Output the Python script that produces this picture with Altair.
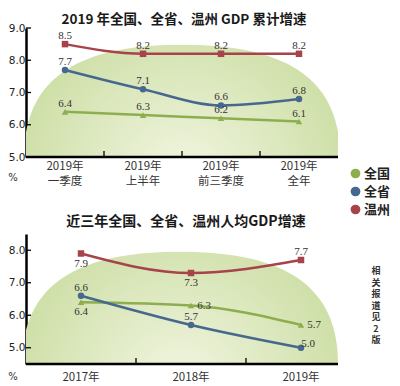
import altair as alt
import pandas as pd

# ---------------- data ----------------
series = ["全国", "全省", "温州"]
series_colors = ["#8dae4f", "#46688e", "#a6434b"]
series_shapes = ["triangle-up", "circle", "square"]

top_title = "2019 年全国、全省、温州 GDP 累计增速"
top_categories = ["2019年 一季度", "2019年 上半年", "2019年 前三季度", "2019年 全年"]
top_national = [6.4, 6.3, 6.2, 6.1]
top_province = [7.7, 7.1, 6.6, 6.8]
top_wenzhou = [8.5, 8.2, 8.2, 8.2]
top_yticks = [5, 6, 7, 8, 9]

bottom_title = "近三年全国、全省、温州人均GDP增速"
bottom_categories = ["2017年", "2018年", "2019年"]
bottom_national = [6.4, 6.3, 5.7]
bottom_province = [6.6, 5.7, 5.0]
bottom_wenzhou = [7.9, 7.3, 7.7]
bottom_yticks = [5, 6, 7, 8]
bottom_label_side = {
    "全国": ["below", "right", "right"],
    "全省": ["above", "above", "upright"],
    "温州": ["below", "below", "above"],
}

unit_text = "%"
side_note = ["相", "关", "报", "道", "见", "2", "版"]


def make_df(cats, values_by_series, sides=None):
    rows = []
    for s, vals in zip(series, values_by_series):
        for i, (c, v) in enumerate(zip(cats, vals)):
            rows.append({"cat": c, "value": v, "series": s,
                         "side": sides[s][i] if sides else "above"})
    return pd.DataFrame(rows)


top_df = make_df(top_categories, [top_national, top_province, top_wenzhou])
bottom_df = make_df(bottom_categories, [bottom_national, bottom_province, bottom_wenzhou],
                    bottom_label_side)

color_scale = alt.Scale(domain=series, range=series_colors)
legend = alt.Legend(orient="none", legendX=323, legendY=139, title=None,
                    symbolType="circle", symbolSize=95, symbolStrokeWidth=0,
                    labelFont="Noto Sans CJK SC", labelFontSize=13,
                    labelFontWeight="bold", labelColor="#222", rowPadding=4,
                    padding=0, labelOffset=2)

bg_gradient = alt.RadialGradient(
    gradient="radial", x1=0.5, y1=0.75, r1=0.0, x2=0.5, y2=0.75, r2=0.62,
    stops=[alt.GradientStop(offset=0, color="#f2f6e2"),
           alt.GradientStop(offset=1, color="#c8db9d")])


def dome_path(ratio, k=0.68):
    h = ratio
    return (f"M-1,0 C-1,{-k*h:.3f} {-k:.3f},{-h:.3f} 0,{-h:.3f} "
            f"C{k:.3f},{-h:.3f} 1,{-k*h:.3f} 1,0 Z")


def one(v):
    return alt.Chart(pd.DataFrame({"a": [0]}))


def panel(df, cats, ydomain, yticks, width, height, title, title_cfg, xrange, dome,
          lab_pad, label_expr, pct_y, note=False):
    xscale = alt.Scale(domain=cats, range=xrange, paddingInner=0, paddingOuter=0)
    yscale = alt.Scale(domain=ydomain, nice=False, zero=False)
    x_axis = alt.Axis(title=None, ticks=False, domain=False, labelAngle=0,
                      labelFont="Noto Sans CJK SC", labelFontSize=11.5,
                      labelColor="#333", labelPadding=lab_pad, labelExpr=label_expr,
                      labelLineHeight=15.5)
    y_axis = alt.Axis(title=None, ticks=False, grid=False, values=yticks, format=".1f",
                      labelFont="DejaVu Sans", labelFontSize=10.5, labelColor="#222",
                      labelPadding=1, domainColor="black", domainWidth=2.5)
    x = alt.X("cat:N", scale=xscale, axis=x_axis, sort=cats)
    y = alt.Y("value:Q", scale=yscale, axis=y_axis)

    cx, hw, ratio = dome
    bg = one(0).mark_point(
        shape=dome_path(ratio), filled=True, fill=bg_gradient, opacity=1,
        strokeWidth=0, size=(2 * hw) ** 2, clip=True
    ).encode(x=alt.value(cx), y=alt.value(height))

    baseline = one(0).mark_rule(color="black", strokeWidth=2.5).encode(
        x=alt.value(0), x2=alt.value(width), y=alt.value(height))

    xt = alt.Chart(pd.DataFrame({"cat": cats[1:]})).mark_rule(
        color="black", strokeWidth=1.3
    ).encode(x=alt.X("cat:N", scale=xscale, sort=cats, bandPosition=0, axis=x_axis),
             y=alt.value(height - 6), y2=alt.value(height))

    yt = alt.Chart(pd.DataFrame({"value": yticks})).mark_rule(
        color="black", strokeWidth=1.3
    ).encode(y=alt.Y("value:Q", scale=yscale, axis=y_axis),
             x=alt.value(0), x2=alt.value(5))

    color = alt.Color("series:N", scale=color_scale, legend=legend)
    lines = alt.Chart(df).mark_line(interpolate="monotone", strokeWidth=2.5).encode(
        x=x, y=y, color=color, detail="series:N")
    pts = []
    for s, shp in zip(series, series_shapes):
        pts.append(alt.Chart(df).transform_filter(alt.datum.series == s).mark_point(
            filled=True, opacity=1, size=42, shape=shp).encode(x=x, y=y, color=color))

    offsets = {"above": (0, -8), "below": (0, 10), "right": (13, 0), "upright": (7, -4)}
    labs = []
    for side, (dx, dy) in offsets.items():
        labs.append(alt.Chart(df).transform_filter(alt.datum.side == side).mark_text(
            font="Liberation Serif", fontSize=11, color="#333", dx=dx, dy=dy,
            baseline="middle", align="center"
        ).encode(x=x, y=y, text=alt.Text("value:Q", format=".1f")))

    pct = one(0).mark_text(
        text=unit_text, font="DejaVu Sans", fontSize=10, color="#333",
        baseline="middle", align="center"
    ).encode(x=alt.value(-13), y=alt.value(pct_y))

    tx, ty, tsize = title_cfg
    ttl = one(0).mark_text(
        text=title, font="Noto Sans CJK SC", fontSize=tsize, fontWeight="bold",
        color="#1a1a1a", baseline="middle", align="center"
    ).encode(x=alt.value(tx), y=alt.value(ty))

    layers = [bg, baseline, xt, yt, lines] + pts + labs + [pct, ttl]
    if note:
        layers.append(one(0).mark_text(
            font="Noto Sans CJK SC", fontSize=9, fontWeight="bold", color="#333",
            lineHeight=11.5, baseline="top", align="center"
        ).encode(x=alt.value(350), y=alt.value(33), text=alt.value(side_note)))

    return alt.layer(*layers).properties(width=width, height=height)


top = panel(top_df, top_categories, [5, 9], top_yticks, 312, 129, top_title,
            (158, -8, 13.5), [0, 312], (156, 158, 0.71), 3, "split(datum.label, ' ')",
            150)
bottom = panel(bottom_df, bottom_categories, [4.5, 8.5], bottom_yticks, 312, 130,
               bottom_title, (160, -12, 14), [0, 330], (154, 158, 0.71), 7,
               "datum.label", 143, note=True)

chart = alt.vconcat(top, bottom, spacing=28).configure(
    padding={"left": 0, "top": 5, "right": 0, "bottom": 0}
).configure_view(stroke=None).properties(background="white")

chart.save("out.html", embed_options={"renderer": "svg", "actions": False})
